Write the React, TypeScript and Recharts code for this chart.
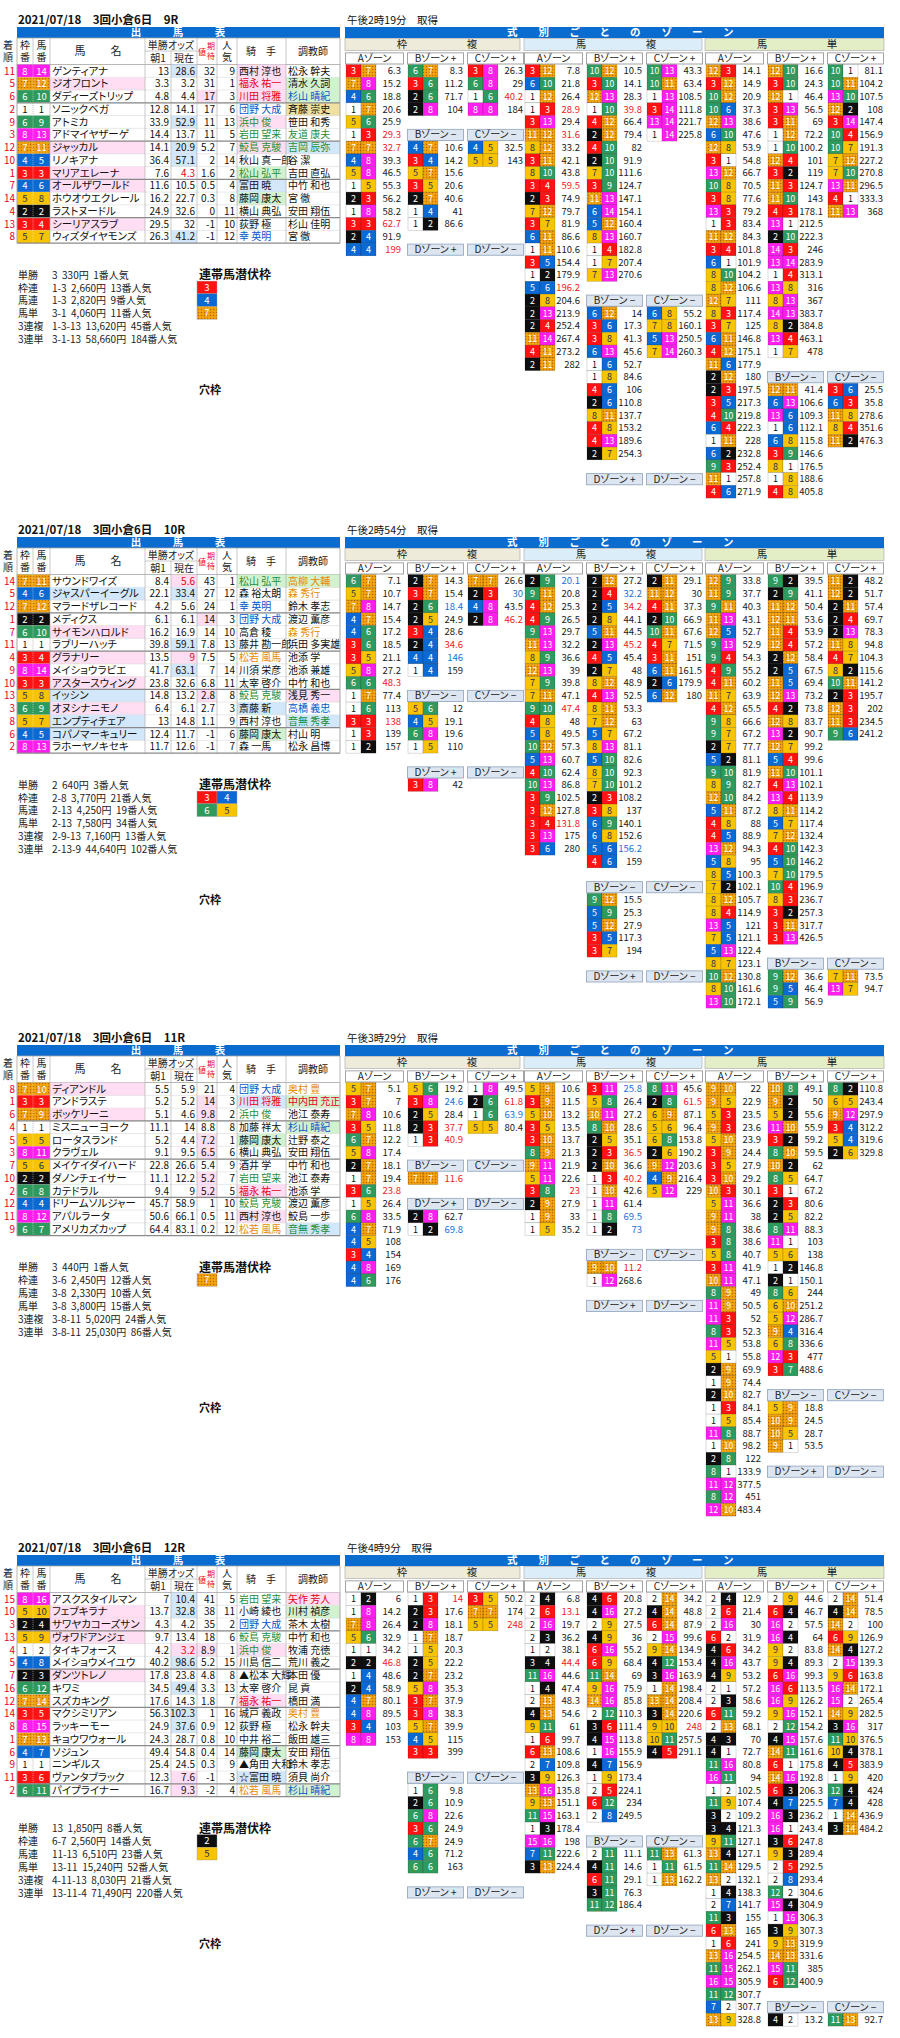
import React from "react";
import { ScatterChart, Scatter, XAxis, YAxis, Customized } from "recharts";

// ---------------- DATA ----------------
const RACE_TITLES = ["2021/07/18　3回小倉6日　9R", "2021/07/18　3回小倉6日　10R", "2021/07/18　3回小倉6日　11R", "2021/07/18　3回小倉6日　12R"];
const RACE_TIMES = ["午後2時19分　取得", "午後2時54分　取得", "午後3時29分　取得", "午後4時9分　取得"];

// [着順, 枠, 馬番, 馬名, 朝1, 現在, 期待値, 人気, 騎手, 調教師, marks]
const R9_HORSES = [
  [11, 8, 14, "ゲンティアナ", 13, 28.6, 32, 9, "西村 淳也", "松永 幹夫", "c=B j=P"],
  [5, 7, 12, "ジオフロント", 3.3, 3.2, 31, 1, "福永 祐一", "清水 久詞", "n=P j=rP t=G"],
  [6, 6, 10, "ダディーズトリップ", 4.8, 4.4, 17, 3, "川田 将雅", "杉山 晴紀", "e=P j=rP t=bG"],
  [2, 1, 1, "ソニックベガ", 12.8, 14.1, 17, 6, "団野 大成", "斉藤 崇史", "j=b t=Y"],
  [9, 6, 9, "アトミカ", 33.9, 52.9, 11, 13, "浜中 俊", "笹田 和秀", "c=B j=gP"],
  [3, 8, 13, "アドマイヤザーゲ", 14.4, 13.7, 11, 5, "岩田 望来", "友道 康夫", "j=g t=g"],
  [12, 7, 11, "ジャッカル", 14.1, 20.9, 5.2, 7, "鮫島 克駿", "吉岡 辰弥", "n=P c=B j=gP t=gB"],
  [10, 4, 5, "リノキアナ", 36.4, 57.1, 2, 14, "秋山 真一郎", "谷 潔", "c=B"],
  [1, 3, 3, "マリアエレーナ", 7.6, 4.3, 1.6, 2, "松山 弘平", "吉田 直弘", "n=P c=r j=gG"],
  [7, 4, 6, "オールザワールド", 11.6, 10.5, 0.5, 4, "富田 暁", "中竹 和也", "n=P j=B"],
  [14, 5, 8, "ホウオウエクレール", 16.2, 22.7, 0.3, 8, "藤岡 康太", "宮 徹", "j=G"],
  [4, 2, 2, "ラストヌードル", 24.9, 32.6, 0, 11, "横山 典弘", "安田 翔伍", ""],
  [13, 3, 4, "シーリアスラブ", 29.5, 32, -1, 10, "荻野 極", "杉山 佳明", "n=P"],
  [8, 5, 7, "ウィズダイヤモンズ", 26.3, 41.2, -1, 12, "幸 英明", "宮 徹", "c=B j=b"],
];
const R10_HORSES = [
  [14, 7, 11, "サウンドワイズ", 8.4, 5.6, 43, 1, "松山 弘平", "高柳 大輔", "c=rP j=gG t=oG"],
  [5, 4, 6, "ジャスパーイーグル", 22.1, 33.4, 27, 12, "森 裕太朗", "森 秀行", "n=B c=B t=o"],
  [12, 7, 12, "マラードザレコード", 4.2, 5.6, 24, 1, "幸 英明", "鈴木 孝志", "j=b"],
  [1, 2, 2, "メディクス", 6.1, 6.1, 14, 3, "団野 大成", "渡辺 薫彦", "e=P j=b"],
  [7, 6, 10, "サイモンハロルド", 16.2, 16.9, 14, 10, "高倉 稜", "森 秀行", "n=P t=o"],
  [11, 1, 1, "ラブリーハッチ", 39.8, 59.1, 7.8, 13, "藤井 勘一郎", "浜田 多実雄", "c=B"],
  [4, 3, 4, "グラナリー", 13.5, 9, 7.5, 5, "松若 風馬", "池添 学", "n=P c=rP j=o"],
  [9, 8, 14, "メイショウラビエ", 41.7, 63.1, 7, 14, "川須 栄彦", "池添 兼雄", "c=B"],
  [10, 3, 3, "アスタースウィング", 23.8, 32.6, 6.8, 11, "太宰 啓介", "中竹 和也", "n=P"],
  [13, 5, 8, "イッシン", 14.8, 13.2, 2.8, 8, "鮫島 克駿", "浅見 秀一", "n=B e=P j=g t=P"],
  [3, 6, 9, "オヌシナニモノ", 6.4, 6.1, 2.7, 3, "斎藤 新", "高橋 義忠", "n=P j=B t=b"],
  [8, 5, 7, "エンプティチェア", 13, 14.8, 1.1, 9, "西村 淳也", "音無 秀孝", "n=B t=gB"],
  [6, 4, 5, "コパノマーキュリー", 12.4, 11.7, -1, 6, "藤岡 康太", "村山 明", "n=B j=G"],
  [2, 8, 13, "ラホーヤノキセキ", 11.7, 12.6, -1, 7, "森 一馬", "松永 昌博", ""],
];
const R11_HORSES = [
  [8, 7, 10, "ディアンドル", 5.5, 5.9, 21, 4, "団野 大成", "奥村 豊", "n=P j=b t=o"],
  [1, 3, 3, "アンドラステ", 5.2, 5.2, 14, 3, "川田 将雅", "中内田 充正", "e=P j=rB t=rG"],
  [6, 7, 9, "ボッケリーニ", 5.1, 4.6, 9.8, 2, "浜中 俊", "池江 泰寿", "n=P e=P j=g"],
  [4, 1, 1, "ミスニューヨーク", 11.1, 14, 8.8, 8, "加藤 祥太", "杉山 晴紀", "t=bG"],
  [5, 5, 5, "ロータスランド", 5.2, 4.4, 7.2, 1, "藤岡 康太", "辻野 泰之", "e=P j=G"],
  [3, 8, 11, "クラヴェル", 9.1, 9.5, 6.5, 6, "横山 典弘", "安田 翔伍", "e=P"],
  [7, 5, 6, "メイケイダイハード", 22.8, 26.6, 5.4, 9, "酒井 学", "中竹 和也", ""],
  [10, 2, 2, "ダノンチェイサー", 11.1, 12.2, 5.2, 7, "岩田 望来", "池江 泰寿", "e=P j=g"],
  [2, 6, 8, "カテドラル", 9.4, 9, 5.2, 5, "福永 祐一", "池添 学", "e=P j=rP"],
  [12, 4, 4, "ドリームソルジャー", 45.7, 58.9, 1, 10, "鮫島 克駿", "渡辺 薫彦", "j=g"],
  [11, 8, 12, "アパルラータ", 50.6, 66.1, 0.5, 11, "西村 淳也", "鮫島 一歩", "j=P"],
  [9, 6, 7, "アメリカズカップ", 64.4, 83.1, 0.2, 12, "松若 風馬", "音無 秀孝", "j=o t=gB"],
];
const R12_HORSES = [
  [15, 8, 16, "アスクスタイルマン", 7, 10.4, 41, 5, "岩田 望来", "矢作 芳人", "c=B j=g t=rP"],
  [10, 5, 10, "フェブキラナ", 13.7, 32.8, 38, 11, "小崎 綾也", "川村 禎彦", "n=P c=B t=G"],
  [3, 2, 4, "サワヤカコーズサン", 4.3, 4.2, 35, 2, "団野 大成", "茶木 太樹", "n=P j=b"],
  [13, 5, 9, "ヴォワドアンジェ", 9.7, 13.4, 18, 6, "鮫島 克駿", "中竹 和也", "n=P j=g"],
  [4, 1, 2, "タイキフォース", 4.2, 3.2, 8.9, 1, "浜中 俊", "牧浦 充徳", "c=rP e=P j=gP"],
  [5, 4, 8, "メイショウメイユウ", 40.2, 98.6, 5.2, 15, "川島 信二", "荒川 義之", "c=B"],
  [7, 2, 3, "ダンツトレノ", 17.8, 23.8, 4.8, 8, "▲松本 大輝", "本田 優", "n=P"],
  [16, 6, 12, "キワミ", 34.5, 49.4, 3.3, 13, "太宰 啓介", "昆 貢", "c=B"],
  [12, 7, 14, "スズカキング", 17.6, 14.3, 1.8, 7, "福永 祐一", "橋田 満", "j=rP"],
  [14, 3, 5, "マクシミリアン", 56.3, 102.3, 1, 16, "城戸 義政", "奥村 豊", "c=B t=o"],
  [8, 8, 15, "ラッキーモー", 24.9, 37.6, 0.9, 12, "荻野 極", "松永 幹夫", "c=B"],
  [1, 7, 13, "キョウワウォール", 24.3, 28.7, 0.8, 10, "中井 裕二", "飯田 雄三", ""],
  [6, 4, 7, "ソジュン", 49.4, 54.8, 0.4, 14, "藤岡 康太", "安田 翔伍", "j=G"],
  [9, 1, 1, "ニンギルス", 25.4, 24.5, 0.3, 9, "▲角田 大和", "鈴木 孝志", ""],
  [11, 3, 6, "ヴァンタブラック", 12.3, 7.6, -1, 3, "☆富田 暁", "須貝 尚介", "c=P j=B"],
  [2, 6, 11, "パイプライナー", 16.7, 9.3, -2, 4, "松若 風馬", "杉山 晴紀", "c=P j=o t=bG"],
];

const R9_PAYOUT = [["単勝", "3  330円  1番人気"], ["枠連", "1-3  2,660円  13番人気"], ["馬連", "1-3  2,820円  9番人気"], ["馬単", "3-1  4,060円  11番人気"], ["3連複", "1-3-13  13,620円  45番人気"], ["3連単", "3-1-13  58,660円  184番人気"]];
const R10_PAYOUT = [["単勝", "2  640円  3番人気"], ["枠連", "2-8  3,770円  21番人気"], ["馬連", "2-13  4,250円  19番人気"], ["馬単", "2-13  7,580円  34番人気"], ["3連複", "2-9-13  7,160円  13番人気"], ["3連単", "2-13-9  44,640円  102番人気"]];
const R11_PAYOUT = [["単勝", "3  440円  1番人気"], ["枠連", "3-6  2,450円  12番人気"], ["馬連", "3-8  2,330円  10番人気"], ["馬単", "3-8  3,800円  15番人気"], ["3連複", "3-8-11  5,020円  24番人気"], ["3連単", "3-8-11  25,030円  86番人気"]];
const R12_PAYOUT = [["単勝", "13  1,850円  8番人気"], ["枠連", "6-7  2,560円  14番人気"], ["馬連", "11-13  6,510円  23番人気"], ["馬単", "13-11  15,240円  52番人気"], ["3連複", "4-11-13  8,030円  21番人気"], ["3連単", "13-11-4  71,490円  220番人気"]];

const R9_HIDDEN = [[3], [4], [7]];
const R10_HIDDEN = [[3, 4], [6, 5]];
const R11_HIDDEN = [[7]];
const R12_HIDDEN = [[2], [5]];

const EMPTY: string[] = [];

// ----- 枠複 / 馬複 / 馬単 zones  ("a-b value[r|b]")
const R9_WAKU_A = ["3-7 6.3", "7-8 15.2", "4-6 18.8", "1-7 20.6", "5-6 25.9", "1-3 29.3r", "7-7 32.7r", "4-8 39.3", "5-8 46.5", "1-5 55.3", "2-3 56.2", "1-8 58.2", "3-3 62.7r", "2-4 91.9", "4-4 199r"];
const R9_WAKU_BP = ["6-7 8.3", "3-6 11.2", "2-6 71.7", "2-8 104"];
const R9_WAKU_CP = ["3-8 26.3", "6-8 29", "1-6 40.2r", "8-8 184"];
const R9_WAKU_BM = ["4-7 10.6", "3-4 14.2", "5-7 15.6", "3-5 20.6", "2-7 40.6", "1-4 41", "1-2 86.6"];
const R9_WAKU_CM = ["4-5 32.5", "5-5 143"];
const R9_UMAREN_A = ["3-12 7.8", "6-10 21.8", "1-12 26.4", "1-3 28.9r", "3-13 29.4", "11-12 31.6r", "8-12 33.2", "3-11 42.1", "8-10 43.8", "3-4 59.5r", "2-3 74.9", "7-12 79.7", "3-7 81.9", "6-11 86.6", "1-11 110.6", "3-5 154.4", "1-2 179.9", "5-6 196.2r", "2-8 204.6", "2-13 213.9", "2-4 252.4", "11-14 267.4", "4-11 273.2", "2-11 282"];
const R9_UMAREN_BP = ["10-12 10.5", "3-10 14.1", "12-13 28.3", "1-10 39.8r", "4-12 66.4", "2-12 79.4", "4-10 82", "2-10 91.9", "7-10 111.6", "3-9 124.7", "11-13 147.1", "6-14 154.1", "5-12 160.4", "8-13 160.7", "1-4 182.8", "1-7 207.4", "7-13 270.6"];
const R9_UMAREN_CP = ["10-13 43.3", "10-11 63.4", "1-13 108.5", "3-14 111.8", "13-14 221.7", "1-14 225.8"];
const R9_UMAREN_BM = ["6-12 14", "3-6 17.3", "3-8 41.3", "6-13 45.6", "1-6 52.7", "1-8 84.6", "4-6 106", "2-6 110.8", "8-11 137.7", "4-8 153.2", "4-13 189.6", "2-7 254.3"];
const R9_UMAREN_CM = ["6-8 55.2", "7-8 160.1", "5-13 250.5", "7-14 260.3"];
const R9_UMATAN_A = ["12-3 14.1", "3-12 14.9", "10-12 20.9", "10-6 37.3", "12-13 38.6", "6-10 47.6", "12-8 53.9", "3-1 54.8", "13-12 66.7", "10-8 70.5", "3-8 77.6", "13-3 79.2", "1-3 83.4", "11-12 84.3", "3-4 101.8", "6-1 101.9", "8-10 104.2", "8-12 106.6", "12-7 111", "8-3 117.4", "3-7 125", "6-11 146.8", "4-12 175.1", "11-6 177.9", "2-12 180", "2-3 197.5", "3-5 217.3", "4-10 219.8", "6-4 222.3", "1-11 228", "6-2 232.8", "9-3 252.4", "11-1 257.8", "4-6 271.9"];
const R9_UMATAN_BP = ["12-10 16.6", "3-10 24.3", "12-1 46.4", "3-13 56.5", "3-11 69", "1-12 72.2", "1-10 100.2", "12-4 101", "3-2 119", "11-3 124.7", "11-10 143", "4-3 178.1", "13-1 212.5", "2-10 222.3", "14-3 246", "13-14 283.9", "1-4 313.1", "13-8 316", "8-13 367", "14-13 383.7", "8-2 384.8", "13-4 463.1", "1-7 478"];
const R9_UMATAN_CP = ["10-1 81.1", "10-11 104.2", "13-10 107.5", "12-2 108", "3-14 147.4", "10-4 156.9", "10-7 191.3", "7-12 227.2", "7-10 270.8", "13-11 296.5", "4-1 333.3", "11-13 368"];
const R9_UMATAN_BM = ["12-11 41.4", "6-13 106.6", "13-6 109.3", "1-6 112.1", "6-8 115.8", "3-9 146.6", "8-1 176.5", "1-8 188.6", "4-8 405.8"];
const R9_UMATAN_CM = ["3-6 25.5", "6-3 35.8", "11-8 278.6", "8-4 351.6", "11-2 476.3"];

const R10_WAKU_A = ["6-7 7.1", "5-7 10.7", "7-8 14.7", "4-7 15.4", "4-6 17.2", "3-6 18.5", "3-5 21.1", "5-8 27.2", "6-6 48.3r", "1-7 77.4", "1-6 113", "3-3 138r", "1-3 139", "1-2 157"];
const R10_WAKU_BP = ["2-7 14.3", "3-7 15.4", "2-6 18.4b", "2-5 24.9", "3-4 28.6", "2-4 34.6r", "4-4 146b", "1-4 159"];
const R10_WAKU_CP = ["7-7 26.6", "2-3 30b", "4-8 43.5", "2-8 46.2r"];
const R10_WAKU_BM = ["5-6 12", "4-5 19.1", "6-8 19.6", "1-5 110"];
const R10_WAKU_DP = ["3-8 42"];
const R10_UMAREN_A = ["2-9 20.1b", "9-11 20.8", "4-12 25.3", "4-9 26.5", "9-13 29.7", "11-13 32.2", "8-9 36.6", "12-13 39", "7-9 39.8", "7-11 47.1", "9-10 47.4r", "4-8 48", "5-8 49.5", "10-12 57.3", "5-13 60.7", "4-10 62.4", "10-13 86.8", "3-9 102.5", "3-12 127.8", "3-4 131.8r", "3-13 175", "3-6 280"];
const R10_UMAREN_BP = ["2-12 27.2", "2-4 32.2b", "2-5 34.2r", "2-8 44.1", "5-11 44.5", "2-13 45.2r", "4-5 45.4", "2-7 48", "8-12 48.9", "4-13 52.5", "8-11 53.3", "7-12 63", "5-7 67.2", "8-13 81.1", "5-10 82.6", "8-10 92.3", "7-10 101.2", "2-3 108.2", "3-8 137", "6-9 140.1", "6-8 152.6", "5-6 156.2b", "4-6 159"];
const R10_UMAREN_CP = ["2-11 29.1", "11-12 30", "4-11 37.3", "2-10 66.9", "10-11 67.6", "4-7 71.5", "3-11 151", "6-11 161.5", "2-6 179.9", "6-12 180"];
const R10_UMAREN_BM = ["9-12 15.5", "5-9 25.3", "5-12 27.9", "3-5 117.3", "3-7 194"];
const R10_UMATAN_A = ["12-9 33.8", "11-9 37.7", "9-11 40.3", "11-13 43.1", "12-5 52.7", "9-13 52.9", "9-4 54.3", "4-9 55.2", "4-11 60.2", "11-7 63.9", "4-12 65.5", "9-8 66.6", "9-7 67.2", "2-7 77.7", "5-2 81.1", "9-10 81.9", "8-9 82.7", "12-10 84.2", "5-11 87.2", "4-8 88", "4-5 88.9", "13-12 94.3", "5-8 95", "8-5 100.3", "7-2 102.1", "8-12 105.7", "8-4 114.9", "13-5 121", "7-5 121.1", "5-13 122.4", "8-7 123.1", "10-12 130.8", "8-10 161.6", "13-10 172.1"];
const R10_UMATAN_BP = ["9-2 39.5", "2-9 41.1", "11-12 50.4", "12-11 53.6", "11-4 53.9", "12-4 57.2", "2-12 58.4", "2-5 67.5", "11-5 69.4", "12-13 73.2", "4-2 73.8", "12-8 83.7", "13-2 90.7", "12-7 99.2", "5-4 99.6", "11-10 101.1", "4-13 102.1", "13-4 113.9", "8-11 114.2", "5-7 117.4", "7-12 132.4", "4-10 142.3", "5-10 146.2", "7-10 179.5", "10-4 196.9", "8-3 236.7", "3-2 257.3", "3-11 317.7", "3-13 426.5"];
const R10_UMATAN_CP = ["11-2 48.2", "12-2 51.7", "2-11 57.4", "2-4 69.7", "2-13 78.3", "11-8 94.8", "4-7 104.3", "8-2 115.6", "10-11 141.2", "2-3 195.7", "12-3 202", "11-3 234.5", "9-6 241.2"];
const R10_UMATAN_BM = ["9-12 36.6", "9-5 46.4", "5-9 56.9"];
const R10_UMATAN_CM = ["7-11 73.5", "13-7 94.7"];

const R11_WAKU_A = ["5-7 5.1", "3-7 7", "7-8 10.6", "3-5 11.8", "6-7 12.2", "5-8 17.4", "2-7 18.1", "1-7 19.4", "3-6 23.8r", "1-5 26.4", "6-8 33.5", "4-7 71.9", "4-5 108", "3-4 154", "4-8 169", "4-6 176"];
const R11_WAKU_BP = ["5-6 19.2", "3-8 24.6b", "2-5 28.4", "2-3 37.7r", "1-3 40.9r"];
const R11_WAKU_CP = ["1-8 49.5", "2-6 61.8r", "1-6 63.9b", "5-5 80.4"];
const R11_WAKU_BM = ["7-7 11.6r"];
const R11_WAKU_DP = ["2-8 62.7", "1-2 69.8b"];
const R11_UMAREN_A = ["5-9 10.6", "3-9 11.5", "5-10 13.2", "3-5 13.5", "3-10 13.7", "8-9 21.3", "9-11 21.9", "5-11 22.6", "3-8 23r", "2-9 27.9", "1-9 33", "1-5 35.2"];
const R11_UMAREN_BP = ["3-11 25.8b", "5-8 26.4", "10-11 27.2", "8-10 28.6", "2-5 35.1", "2-3 36.5r", "2-10 36.6", "1-3 40.2r", "1-10 42.6", "1-11 61.4", "1-8 69.5b", "1-2 73b"];
const R11_UMAREN_CP = ["8-11 45.6", "2-8 61.5r", "6-9 87.1", "5-6 96.4", "6-8 153.8", "2-6 190.2", "9-12 203.6", "4-9 216.4", "5-12 229"];
const R11_UMAREN_BM = ["9-10 11.2r", "1-12 268.6"];
const R11_UMATAN_A = ["9-10 22", "9-5 22.9", "5-3 23.5", "9-3 23.6", "5-10 23.9", "3-9 24.4", "3-5 27.9", "3-10 29.2", "10-3 30.1", "5-11 36.6", "9-11 38", "9-8 38.6", "3-8 38.6", "5-8 40.7", "3-11 41.9", "10-11 47.1", "8-9 49", "11-9 50.5", "11-3 52", "8-3 52.3", "11-5 53.8", "5-1 55.8", "2-9 69.9", "1-9 74.4", "2-10 82.7", "1-3 84.1", "1-5 85.4", "11-8 88.7", "1-10 98.2", "2-8 122", "8-1 133.9", "11-12 377.5", "8-12 451", "12-10 483.4"];
const R11_UMATAN_BP = ["10-8 49.1", "9-2 50", "5-2 55.6", "11-10 55.9", "3-2 59.2", "8-10 59.5", "10-2 62", "8-5 64.7", "3-1 67.2", "2-3 80.6", "2-5 82.2", "8-11 88.3", "11-1 103", "5-6 138", "1-2 146.8", "2-1 150.1", "8-6 244", "6-10 251.2", "5-12 286.7", "9-4 316.4", "6-8 336.6", "12-3 477", "3-7 488.6"];
const R11_UMATAN_CP = ["8-2 110.8", "6-5 243.4", "9-12 297.9", "3-4 312.2", "5-4 319.6", "2-6 329.8"];
const R11_UMATAN_BM = ["5-9 18.8", "10-9 24.5", "10-5 28.7", "9-1 53.5"];

const R12_WAKU_A = ["1-2 6", "1-8 14.2", "7-8 26.4", "5-6 32.9", "1-1 34.2", "2-2 46.8r", "1-4 48.6", "2-4 58.9", "4-7 80.1", "4-8 89.5", "3-4 103", "8-8 153"];
const R12_WAKU_BP = ["1-3 14r", "2-3 17.6", "2-8 18.1", "1-7 18.7", "1-5 20.3", "2-5 22.2", "2-7 23.2", "5-8 35.3", "3-7 37.9", "3-8 38.3", "5-7 39.9", "4-5 115", "3-3 399"];
const R12_WAKU_CP = ["3-5 50.2", "7-7 174", "5-5 248r"];
const R12_WAKU_BM = ["1-6 9.8", "2-6 10.9", "6-8 22.6", "3-6 24.9", "6-7 24.9", "4-6 71.2", "6-6 163"];
const R12_UMAREN_A = ["2-4 6.8", "2-6 13.1r", "2-16 19.7", "2-3 36.2", "1-2 38.1", "3-4 44.4r", "11-16 44.6", "1-4 47.4", "2-13 48.3", "4-13 54.6", "9-11 61", "1-6 99.7", "6-13 108.6", "2-7 109.8", "3-9 126.3", "13-16 135.8", "9-13 151.1", "11-15 163.1", "1-3 178.4", "15-16 198", "7-11 222.6", "3-13 224.4"];
const R12_UMAREN_BP = ["4-6 20.8", "4-16 27.2", "2-9 27.5", "4-9 36", "6-16 55.2", "6-9 68.4", "11-14 69", "9-16 75.9", "14-16 85.8", "2-12 110.3", "3-6 111.4", "4-15 113.8", "1-16 155.9", "4-7 156.9", "1-9 173.4", "2-5 224.1", "6-12 234", "2-8 249.5"];
const R12_UMAREN_CP = ["2-14 34.2", "4-14 48.8", "6-14 87.9", "2-15 99.6", "9-14 134.9", "4-12 153.4", "3-16 163.9", "1-14 198.4", "13-14 208.4", "3-14 220.6", "9-10 248r", "10-11 257.5", "4-5 291.1"];
const R12_UMAREN_BM = ["2-11 11.1", "4-11 14.6", "6-11 29.1", "3-11 76.3", "11-12 186.4"];
const R12_UMAREN_CM = ["11-13 61.3", "1-11 61.5", "1-13 162.2"];
const R12_UMATAN_A = ["2-4 12.9", "2-6 21.4", "2-16 30", "6-2 31.9", "4-6 34.2", "4-16 43.7", "4-9 53.2", "2-1 57.2", "2-3 58.6", "6-11 59.2", "2-13 68.1", "4-3 70", "4-1 72.7", "11-16 80.8", "16-11 94", "1-2 102.5", "11-9 107.4", "3-2 109.2", "3-4 121.3", "9-11 127.1", "13-4 127.1", "11-14 129.5", "13-2 132.1", "1-4 138.3", "2-7 141.7", "11-3 155", "6-13 165", "1-6 241", "13-16 254.5", "11-15 262.1", "16-15 305.9", "11-12 307.7", "7-2 307.7", "13-9 328.8"];
const R12_UMATAN_BP = ["2-9 44.6", "6-4 46.7", "16-2 57.5", "16-4 64", "9-2 83.8", "9-4 89.3", "6-16 99.3", "16-6 113.5", "16-9 126.2", "9-16 152.1", "2-12 154.2", "4-15 157.6", "14-11 161.6", "6-1 175.8", "14-16 192.8", "6-3 206.3", "4-7 225.5", "16-3 236.2", "16-1 243.4", "3-6 247.8", "9-3 289.4", "2-5 292.5", "2-8 293.4", "12-2 304.6", "15-4 304.9", "1-16 306.3", "3-9 307.3", "9-13 319.9", "14-13 331.6", "15-11 385", "6-12 400.9"];
const R12_UMATAN_CP = ["2-14 51.4", "4-14 78.5", "14-2 100", "6-9 126.9", "14-4 127.2", "2-15 139.3", "9-6 163.8", "16-14 172.1", "15-2 265.4", "14-9 282.5", "3-16 317", "11-10 376.5", "10-4 378.1", "4-5 383.9", "1-9 420", "12-4 424", "7-4 428", "1-14 436.9", "3-14 484.2"];
const R12_UMATAN_BM = ["4-2 13.2"];
const R12_UMATAN_CM = ["11-13 92.7"];

// tables built from the arrays
const HORSES = [R9_HORSES, R10_HORSES, R11_HORSES, R12_HORSES];
const PAYOUTS = [R9_PAYOUT, R10_PAYOUT, R11_PAYOUT, R12_PAYOUT];
const HIDDEN = [R9_HIDDEN, R10_HIDDEN, R11_HIDDEN, R12_HIDDEN];
const z = (A, Bp, Cp, Bm, Cm, Dp = EMPTY, Dm = EMPTY) => ({ A, Bp, Cp, Bm, Cm, Dp, Dm });
const ZONES = [
  [z(R9_WAKU_A, R9_WAKU_BP, R9_WAKU_CP, R9_WAKU_BM, R9_WAKU_CM), z(R9_UMAREN_A, R9_UMAREN_BP, R9_UMAREN_CP, R9_UMAREN_BM, R9_UMAREN_CM), z(R9_UMATAN_A, R9_UMATAN_BP, R9_UMATAN_CP, R9_UMATAN_BM, R9_UMATAN_CM)],
  [z(R10_WAKU_A, R10_WAKU_BP, R10_WAKU_CP, R10_WAKU_BM, EMPTY, R10_WAKU_DP), z(R10_UMAREN_A, R10_UMAREN_BP, R10_UMAREN_CP, R10_UMAREN_BM, EMPTY), z(R10_UMATAN_A, R10_UMATAN_BP, R10_UMATAN_CP, R10_UMATAN_BM, R10_UMATAN_CM)],
  [z(R11_WAKU_A, R11_WAKU_BP, R11_WAKU_CP, R11_WAKU_BM, EMPTY, R11_WAKU_DP), z(R11_UMAREN_A, R11_UMAREN_BP, R11_UMAREN_CP, R11_UMAREN_BM, EMPTY), z(R11_UMATAN_A, R11_UMATAN_BP, R11_UMATAN_CP, R11_UMATAN_BM, EMPTY)],
  [z(R12_WAKU_A, R12_WAKU_BP, R12_WAKU_CP, R12_WAKU_BM, EMPTY), z(R12_UMAREN_A, R12_UMAREN_BP, R12_UMAREN_CP, R12_UMAREN_BM, R12_UMAREN_CM), z(R12_UMATAN_A, R12_UMATAN_BP, R12_UMATAN_CP, R12_UMATAN_BM, R12_UMATAN_CM)],
];

// ---------------- LAYOUT / STYLE ----------------
const W = 900;
const H = 2038;
const FONT = "'Noto Sans CJK JP','Noto Sans',sans-serif";
const RACE_TOP = [0, 510, 1018, 1528];
const ROW_H = 12.75;
const ROW0 = 64.6;
const GROUP_X = [345, 524, 705];
const GROUP_W = [175, 178, 179];
const GROUP_BG = ["#EFEBDB", "#DCEDFA", "#E3EEC6"];
const GROUP_LABEL = [["枠", "複"], ["馬", "複"], ["馬", "単"]];
const ZONE_DX = [0, 62, 122];
const COLS = [17, 50, 145, 171, 197, 217, 237, 286, 340];

const WAKU_BG = ["#fff", "#FFFFFF", "#0E0E0E", "#FF1212", "#0A69D2", "#F8C300", "#2F9A5D", "url(#orangeDots)", "#FF1EEE"];
const WAKU_FG = ["#000", "#111", "#fff", "#fff", "#fff", "#27305a", "#fff", "#fff", "#fff"];
const TXT = { r: "#E8001A", b: "#0755C8", g: "#1F8E3C", o: "#E88A00" };
const BGC = { P: "#FFDDF2", B: "#D3E7FA", G: "#D2F1CE", Y: "#EFE0A2" };

const sty = (code) => {
  let fill = "#111";
  let bg = null;
  for (const ch of code || "") {
    if (TXT[ch]) fill = TXT[ch];
    if (BGC[ch]) bg = BGC[ch];
  }
  return { fill, bg };
};
const parseMarks = (s) => {
  const m = { n: "", c: "", e: "", j: "", t: "" };
  (s || "").split(" ").filter(Boolean).forEach((kv) => {
    const [k, v] = kv.split("=");
    m[k] = v;
  });
  return m;
};
const parsePair = (s) => {
  const [pair, raw] = s.split(" ");
  const [a, b] = pair.split("-").map(Number);
  const last = raw[raw.length - 1];
  const st = last === "r" || last === "b" ? last : "";
  return { a, b, v: st ? raw.slice(0, -1) : raw, st };
};

// ---------------- POINTS ----------------
const rowPoints = [];
HORSES.forEach((rows, ri) => {
  rows.forEach((r, i) => {
    rowPoints.push({
      x: 0,
      y: RACE_TOP[ri] + ROW0 + i * ROW_H,
      idx: i,
      last: i === rows.length - 1,
      finish: r[0], waku: r[1], uma: r[2], name: r[3], am: r[4], now: r[5], exp: r[6], pop: r[7],
      jockey: r[8], trainer: r[9], marks: parseMarks(r[10] as string),
    });
  });
});

const zonePoints = [];
ZONES.forEach((groups, ri) => {
  const T = RACE_TOP[ri];
  const wakuMap = {};
  HORSES[ri].forEach((r) => { wakuMap[r[2] as number] = r[1]; });
  const rowY = (r) => T + ROW0 + r * ROW_H;
  groups.forEach((zz, gi) => {
    const gx = GROUP_X[gi];
    const wk = (n) => (gi === 0 ? n : wakuMap[n]);
    const push = (list, zx, r0) => list.forEach((s, i) => {
      const p = parsePair(s);
      zonePoints.push({ x: zx, y: rowY(r0 + i), kind: "pair", ...p, ca: wk(p.a), cb: wk(p.b) });
    });
    const hdr = (label, zx, r, tint, w = 56) => zonePoints.push({ x: zx, y: rowY(r), kind: "hdr", label, tint, w });
    hdr("Aゾーン", gx + ZONE_DX[0], -1, false, 58);
    hdr("Bゾーン +", gx + ZONE_DX[1], -1, false);
    hdr("Cゾーン +", gx + ZONE_DX[2], -1, false);
    push(zz.A, gx + ZONE_DX[0], 0);
    push(zz.Bp, gx + ZONE_DX[1], 0);
    push(zz.Cp, gx + ZONE_DX[2], 0);
    const hm = Math.max(zz.Bp.length, zz.Cp.length) + 1;
    hdr("Bゾーン −", gx + ZONE_DX[1], hm, true);
    hdr("Cゾーン −", gx + ZONE_DX[2], hm, true);
    push(zz.Bm, gx + ZONE_DX[1], hm + 1);
    push(zz.Cm, gx + ZONE_DX[2], hm + 1);
    const hd = hm + 1 + Math.max(zz.Bm.length, zz.Cm.length) + 1;
    if (hd <= 33) {
      hdr("Dゾーン +", gx + ZONE_DX[1], hd, true);
      hdr("Dゾーン −", gx + ZONE_DX[2], hd, true);
      push(zz.Dp, gx + ZONE_DX[1], hd + 1);
      push(zz.Dm, gx + ZONE_DX[2], hd + 1);
    }
  });
});

// ---------------- SHAPES ----------------
function HorseRow(props) {
  const { cx, cy, payload: p } = props;
  const y = cy;
  const base = y + ROW_H / 2 + 3.7;
  const m = p.marks;
  const bgCell = (x1, x2, code, k) => {
    const s = sty(code);
    return s.bg ? <rect key={k} x={x1} y={y} width={x2 - x1} height={ROW_H} fill={s.bg} /> : null;
  };
  const num = (v, x, fill = "#111") => (
    <text x={x} y={base} textAnchor="end" fontSize={10} fill={fill}>{String(v)}</text>
  );
  return (
    <g fontFamily={FONT}>
      {bgCell(50, 145, m.n, "n")}
      {bgCell(171, 197, m.c, "c")}
      {bgCell(197, 217, m.e, "e")}
      {bgCell(237, 286, m.j, "j")}
      {bgCell(286, 340, m.t, "t")}
      <rect x={17} y={y} width={16} height={ROW_H} fill={WAKU_BG[p.waku]} />
      <rect x={33} y={y} width={17} height={ROW_H} fill={WAKU_BG[p.waku]} />
      <line x1={33} x2={33} y1={y} y2={y + ROW_H} stroke={p.waku === 1 ? "#999" : "rgba(255,255,255,0.7)"} strokeWidth={0.7} strokeDasharray="1 1" />
      <text x={25} y={base} textAnchor="middle" fontSize={9.5} fill={WAKU_FG[p.waku]}>{p.waku}</text>
      <text x={41.5} y={base} textAnchor="middle" fontSize={9.5} fill={WAKU_FG[p.waku]}>{p.uma}</text>
      <text x={15} y={base} textAnchor="end" fontSize={10} fill="#E8001A">{p.finish}</text>
      <text x={52} y={base} fontSize={10.5} fill="#111">{p.name}</text>
      {num(p.am, 169)}
      {num(p.now, 195, sty(m.c).fill)}
      {num(p.exp, 215)}
      {num(p.pop, 235)}
      <text x={239} y={base} fontSize={10} fill={sty(m.j).fill}>{p.jockey}</text>
      <text x={288} y={base} fontSize={10} fill={sty(m.t).fill}>{p.trainer}</text>
      <line x1={17} x2={340} y1={y + ROW_H} y2={y + ROW_H} stroke={p.last ? "#8A8A8A" : "#D0D0D0"} strokeWidth={p.last ? 1.2 : 0.5} />
      {p.idx % 3 === 0 && p.idx > 0 ? <line x1={17} x2={340} y1={y} y2={y} stroke="#8A8A8A" strokeWidth={1.2} /> : null}
      {COLS.map((x) => (
        <line key={x} x1={x} x2={x} y1={y} y2={y + ROW_H} stroke="#A5A5A5" strokeWidth={x === 17 || x === 340 ? 1 : 0.6} />
      ))}
    </g>
  );
}

function ZoneItem(props) {
  const { cx, cy, payload: p } = props;
  if (p.kind === "hdr") {
    return (
      <g fontFamily={FONT}>
        <rect x={cx + 0.5} y={cy + 1} width={p.w} height={ROW_H - 1.6} fill={p.tint ? "#DCE5F0" : "#FFFFFF"} stroke={p.tint ? "#98ABC4" : "#9A9A9A"} strokeWidth={0.9} />
        <text x={cx + 0.5 + p.w / 2} y={cy + ROW_H / 2 + 3.6} textAnchor="middle" fontSize={10} fill="#222">{p.label}</text>
      </g>
    );
  }
  const cw = 15;
  const x1 = cx + 1;
  const x2 = x1 + cw;
  const base = cy + ROW_H / 2 + 3.3;
  const valFill = p.st === "r" ? "#F21A1A" : p.st === "b" ? "#1C6FD6" : "#1A1A1A";
  return (
    <g fontFamily={FONT}>
      <rect x={x1} y={cy} width={cw} height={ROW_H} fill={WAKU_BG[p.ca]} stroke="rgba(0,0,0,0.35)" strokeWidth={0.4} />
      <rect x={x2} y={cy} width={cw} height={ROW_H} fill={WAKU_BG[p.cb]} stroke="rgba(0,0,0,0.35)" strokeWidth={0.4} />
      <text x={x1 + cw / 2} y={base} textAnchor="middle" fontSize={p.a >= 10 ? 8.5 : 9} fill={WAKU_FG[p.ca]}>{p.a}</text>
      <text x={x2 + cw / 2} y={base} textAnchor="middle" fontSize={p.b >= 10 ? 8.5 : 9} fill={WAKU_FG[p.cb]}>{p.b}</text>
      <text x={cx + 56} y={base} textAnchor="end" fontSize={9.5} fill={valFill}>{p.v}</text>
    </g>
  );
}

function StaticLayer() {
  return (
    <g fontFamily={FONT} style={{ fontFeatureSettings: '"palt"' }}>
      <defs>
        <pattern id="orangeDots" width="3" height="3" patternUnits="userSpaceOnUse">
          <rect width="3" height="3" fill="#EC9A00" />
          <rect x="0" y="0" width="1" height="1" fill="#B86A00" />
          <rect x="1.5" y="1.5" width="1" height="1" fill="#FFC24A" />
        </pattern>
      </defs>
      {RACE_TOP.map((T, ri) => {
        const tableEnd = ROW0 + HORSES[ri].length * ROW_H;
        const pY = T + tableEnd + 32; // center of first payout line
        const anaY = T + Math.max(390, tableEnd + 32 + 115);
        return (
          <g key={ri}>
            {/* left title + header */}
            <text x={18} y={T + 24} fontSize={11.5} fontWeight={600} fill="#111" style={{ whiteSpace: "pre" }}>{RACE_TITLES[ri]}</text>
            <rect x={17} y={T + 27} width={323} height={11} fill="#0A6CCF" />
            <text x={178} y={T + 36.3} textAnchor="middle" fontSize={10.5} fontWeight={700} fill="#fff">出　　　馬　　　表</text>
            <rect x={17} y={T + 38} width={323} height={ROW0 - 38} fill="#fff" stroke="#A5A5A5" strokeWidth={0.8} />
            {[33, 50, 145, 197, 217, 237, 286].map((x) => (
              <line key={x} x1={x} x2={x} y1={T + 38} y2={T + ROW0} stroke="#A5A5A5" strokeWidth={0.6} />
            ))}
            <line x1={171} x2={171} y1={T + 51} y2={T + ROW0} stroke="#A5A5A5" strokeWidth={0.6} />
            <line x1={145} x2={197} y1={T + 51} y2={T + 51} stroke="#A5A5A5" strokeWidth={0.6} />
            <g fontSize={10} fill="#222">
              <text x={8} y={T + 49} textAnchor="middle">着</text>
              <text x={8} y={T + 61} textAnchor="middle">順</text>
              <text x={25} y={T + 49} textAnchor="middle">枠</text>
              <text x={25} y={T + 61} textAnchor="middle">番</text>
              <text x={41.5} y={T + 49} textAnchor="middle">馬</text>
              <text x={41.5} y={T + 61} textAnchor="middle">番</text>
              <text x={80} y={T + 55} textAnchor="middle" fontSize={11}>馬</text>
              <text x={116} y={T + 55} textAnchor="middle" fontSize={11}>名</text>
              <text x={171} y={T + 48.5} textAnchor="middle">単勝オッズ</text>
              <text x={158} y={T + 61.5} textAnchor="middle">朝1</text>
              <text x={184} y={T + 61.5} textAnchor="middle">現在</text>
              <text x={202} y={T + 55} textAnchor="middle" fill="#E8001A" fontSize={8}>値</text>
              <text x={211} y={T + 49} textAnchor="middle" fill="#E8001A" fontSize={8}>期</text>
              <text x={211} y={T + 59} textAnchor="middle" fill="#E8001A" fontSize={8}>待</text>
              <text x={227} y={T + 49} textAnchor="middle">人</text>
              <text x={227} y={T + 61} textAnchor="middle">気</text>
              <text x={261} y={T + 55} textAnchor="middle">騎　手</text>
              <text x={313} y={T + 55} textAnchor="middle">調教師</text>
            </g>
            {/* payouts */}
            {PAYOUTS[ri].map((row, i) => (
              <g key={i} fontSize={10} fill="#222">
                <text x={18} y={pY + 3.5 + i * 12.9}>{row[0]}</text>
                <text x={52} y={pY + 3.5 + i * 12.9} style={{ whiteSpace: "pre" }}>{row[1]}</text>
              </g>
            ))}
            <text x={199} y={pY + 4} fontSize={12} fontWeight={700} fill="#111">連帯馬潜伏枠</text>
            {HIDDEN[ri].map((line, r) =>
              line.map((w, c) => (
                <g key={r + "-" + c}>
                  <rect x={197 + c * 20} y={pY + 6 + r * 12.7} width={20} height={12.7} fill={WAKU_BG[w]} stroke="#999" strokeWidth={0.4} />
                  <text x={207 + c * 20} y={pY + 15.7 + r * 12.7} textAnchor="middle" fontSize={9.5} fill={WAKU_FG[w]}>{w}</text>
                </g>
              ))
            )}
            <text x={199} y={anaY + 4} fontSize={11} fontWeight={700} fill="#111">穴枠</text>
            {/* right side */}
            <text x={347} y={T + 24} fontSize={10.5} fill="#111" style={{ whiteSpace: "pre" }}>{RACE_TIMES[ri]}</text>
            <rect x={345} y={T + 27} width={539} height={11} fill="#0A6CCF" />
            <text x={620} y={T + 36.3} textAnchor="middle" fontSize={10.5} fontWeight={700} fill="#fff" style={{ whiteSpace: "pre" }}>式　　別　　ご　　と　　の　　ゾ　　ー　　ン</text>
            {GROUP_X.map((gx, gi) => (
              <g key={gi}>
                <rect x={gx} y={T + 38.5} width={GROUP_W[gi]} height={12} fill={GROUP_BG[gi]} stroke="#B0B0B0" strokeWidth={0.7} />
                <text x={gx + 57} y={T + 48} textAnchor="middle" fontSize={10.5} fill="#222">{GROUP_LABEL[gi][0]}</text>
                <text x={gx + 127} y={T + 48} textAnchor="middle" fontSize={10.5} fill="#222">{GROUP_LABEL[gi][1]}</text>
              </g>
            ))}
          </g>
        );
      })}
    </g>
  );
}

export default function App() {
  return (
    <div style={{ position: "absolute", left: 0, top: 0, width: W, height: H, background: "#fff" }}>
      <ScatterChart width={W} height={H} margin={{ top: 0, right: 0, bottom: 0, left: 0 }} style={{ fontFeatureSettings: '"palt"' }}>
        <XAxis type="number" dataKey="x" domain={[0, W]} hide allowDataOverflow />
        <YAxis type="number" dataKey="y" domain={[0, H]} reversed hide allowDataOverflow />
        <Customized component={StaticLayer} />
        <Scatter data={rowPoints} shape={HorseRow} isAnimationActive={false} />
        <Scatter data={zonePoints} shape={ZoneItem} isAnimationActive={false} />
      </ScatterChart>
    </div>
  );
}
